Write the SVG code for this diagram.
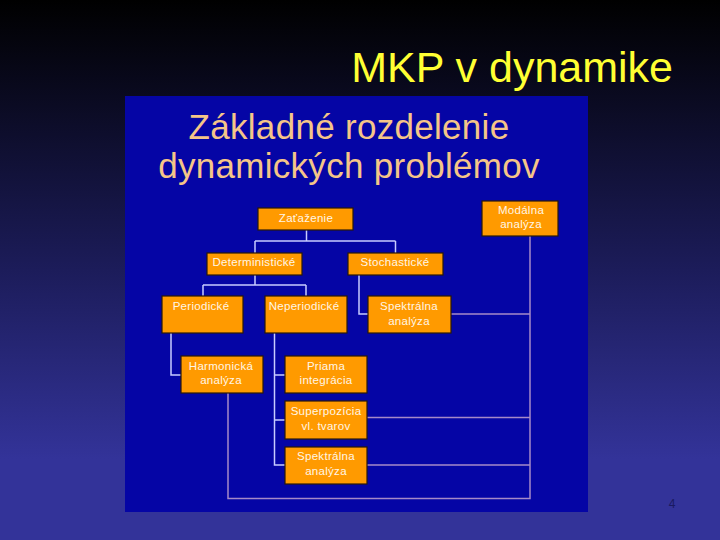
<svg xmlns="http://www.w3.org/2000/svg" width="720" height="540" viewBox="0 0 720 540">
<defs>
<linearGradient id="bg" x1="0" y1="0" x2="0" y2="1">
<stop offset="0" stop-color="#000000"/>
<stop offset="0.5" stop-color="#1c1c5a"/>
<stop offset="0.85" stop-color="#333399"/>
<stop offset="1" stop-color="#333399"/>
</linearGradient>
<style>
.box{fill:#ff9a00;stroke:#2a1a08;stroke-width:1.2}
.lbl{font-family:"Liberation Sans",Arial,sans-serif;font-size:11.5px;fill:#fff6e6;text-anchor:middle;letter-spacing:0.3px}
.tree{fill:none;stroke:#c8ccff;stroke-width:1.5}
.link{fill:none;stroke:#a68ac8;stroke-width:1.5}
.ttl{font-family:"Liberation Sans",Arial,sans-serif;font-size:35px;fill:#f5c588;text-anchor:middle;letter-spacing:0.3px}
</style>
</defs>
<rect x="0" y="0" width="720" height="540" fill="url(#bg)"/>
<text x="673" y="82" font-family="'Liberation Sans',Arial,sans-serif" font-size="43" fill="#ffff33" text-anchor="end">MKP v dynamike</text>
<rect x="125" y="96" width="463" height="416" fill="#0505a5"/>
<text class="ttl" x="349" y="139">Základné rozdelenie</text>
<text class="ttl" x="349" y="178">dynamických problémov</text>
<g id="connectors">
<path class="tree" d="M306.5 230V241M255 241H395.5M255 241V253M395.5 241V253"/>
<path class="tree" d="M255 275V285M203 285H306M203 285V296M306 285V296"/>
<path class="tree" d="M359 275V314H368"/>
<path class="tree" d="M171 333V375H181"/>
<path class="tree" d="M274.5 333V465H285M274.5 375H285M274.5 420H285"/>
<path class="link" d="M530 236V498.5H228V393"/>
<path class="link" d="M451 314H530M367 417.5H530M367 465H530"/>
</g>
<g id="n-zatazenie"><rect class="box" x="258" y="208" width="95" height="22"/><text class="lbl" x="306" y="222">Zaťaženie</text></g>
<g id="n-modalna"><rect class="box" x="482" y="201" width="76" height="35"/><text class="lbl" x="521" y="214">Modálna</text><text class="lbl" x="521" y="228">analýza</text></g>
<g id="n-determ"><rect class="box" x="207" y="253" width="95" height="22"/><text class="lbl" x="254" y="266">Deterministické</text></g>
<g id="n-stoch"><rect class="box" x="348" y="253" width="95" height="22"/><text class="lbl" x="395" y="266">Stochastické</text></g>
<g id="n-period"><rect class="box" x="162" y="296" width="81" height="37"/><text class="lbl" x="201" y="310">Periodické</text></g>
<g id="n-neperiod"><rect class="box" x="265" y="296" width="82" height="37"/><text class="lbl" x="304" y="310">Neperiodické</text></g>
<g id="n-spektr1"><rect class="box" x="368" y="296" width="83" height="37"/><text class="lbl" x="409" y="310">Spektrálna</text><text class="lbl" x="409" y="325">analýza</text></g>
<g id="n-harmon"><rect class="box" x="181" y="356" width="82" height="37"/><text class="lbl" x="221" y="370">Harmonická</text><text class="lbl" x="221" y="384">analýza</text></g>
<g id="n-priama"><rect class="box" x="285" y="356" width="82" height="37"/><text class="lbl" x="326" y="370">Priama</text><text class="lbl" x="326" y="384">integrácia</text></g>
<g id="n-superpoz"><rect class="box" x="285" y="401" width="82" height="38"/><text class="lbl" x="326" y="415">Superpozícia</text><text class="lbl" x="326" y="430">vl. tvarov</text></g>
<g id="n-spektr2"><rect class="box" x="285" y="447" width="82" height="37"/><text class="lbl" x="326" y="460">Spektrálna</text><text class="lbl" x="326" y="475">analýza</text></g>
<text x="672" y="508" font-family="'Liberation Sans',Arial,sans-serif" font-size="12" fill="#1a1a60" text-anchor="middle">4</text>
</svg>
